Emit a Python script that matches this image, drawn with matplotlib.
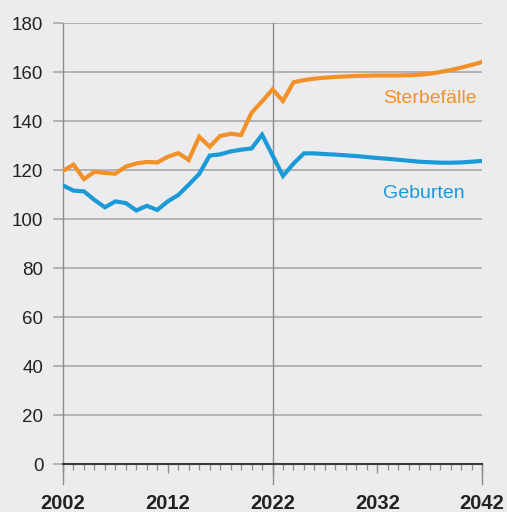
import matplotlib.pyplot as plt
from matplotlib.ticker import MultipleLocator

# Jahre 2002 bis 2042, Werte in Tausend
years = list(range(2002, 2043))

sterbefaelle = [119.7, 122.2, 116.3, 119.3, 118.8, 118.5, 121.4, 122.7, 123.3, 123.1,
                125.4, 126.9, 124.1, 133.6, 129.5, 133.9, 134.8, 134.3, 143.4, 148.0,
                152.9, 148.2, 155.8, 156.7, 157.3, 157.7, 158.0, 158.2, 158.4, 158.5,
                158.6, 158.6, 158.6, 158.7, 158.9, 159.3, 160.0, 160.8, 161.8, 162.9,
                164.1]

geburten = [113.7, 111.6, 111.3, 107.8, 104.8, 107.2, 106.5, 103.5, 105.4, 103.7,
            107.2, 109.8, 114.0, 118.4, 125.9, 126.4, 127.6, 128.3, 128.8, 134.4,
            126.0, 117.6, 122.6, 126.8, 126.8, 126.5, 126.3, 126.0, 125.7, 125.3,
            124.9, 124.6, 124.2, 123.8, 123.4, 123.2, 123.0, 123.0, 123.1, 123.4,
            123.7]

x_labels = ["2002", "2012", "2022", "2032", "2042"]

bg = "#ececee"
orange = "#f39129"
blue = "#1a9ad6"
grid_col = "#a9a9ab"

plt.rcParams['font.family'] = ['Liberation Sans', 'DejaVu Sans']

fig = plt.figure(figsize=(5.07, 5.12), dpi=100, facecolor=bg)
ax = fig.add_axes([0.1243, 0.0937, 0.8264, 0.8613], facecolor=bg)

ax.set_xlim(2002, 2042)
ax.set_ylim(0, 180)

# gitter
ax.set_yticks(range(0, 181, 20))
ax.grid(axis='y', color=grid_col, linewidth=1.2)
ax.set_axisbelow(True)
ax.axvline(2022, ymin=-0.045, color="#8c8c8e", linewidth=1.0, clip_on=False, zorder=1)
ax.axvline(2002, ymin=-0.045, color="#8c8c8e", linewidth=1.0, clip_on=False, zorder=1)
ax.axvline(2042, ymin=-0.045, ymax=0, color="#8c8c8e", linewidth=1.0, clip_on=False, zorder=1)

ax.plot(years, sterbefaelle, color=orange, linewidth=3.0, solid_joinstyle='miter', zorder=3)
ax.plot(years, geburten, color=blue, linewidth=3.0, solid_joinstyle='miter', zorder=3)

ax.text(2041.5, 149, "Sterbefälle", color=orange, fontsize=14, ha='right', va='center')
ax.text(2040.3, 110.6, "Geburten", color=blue, fontsize=14, ha='right', va='center')

for s in ['top', 'right', 'left']:
    ax.spines[s].set_visible(False)
ax.spines['bottom'].set_color("#3a3a3a")
ax.spines['bottom'].set_linewidth(1.5)
ax.spines['bottom'].set_zorder(4)

ax.set_xticks([2002, 2012, 2022, 2032, 2042])
ax.set_xticklabels(x_labels, fontsize=14.5, fontweight='bold', color="#222222")
ax.xaxis.set_minor_locator(MultipleLocator(1))
ax.tick_params(axis='x', which='major', length=6.5, width=1.0, color="#8c8c8e", pad=15)
ax.tick_params(axis='x', which='minor', length=4.3, width=0.9, color="#8c8c8e")
ax.tick_params(axis='y', length=7.2, width=1.2, color=grid_col, labelsize=13.5,
               labelcolor="#222222", pad=7)

fig.savefig("out.png", dpi=100, facecolor=bg)
